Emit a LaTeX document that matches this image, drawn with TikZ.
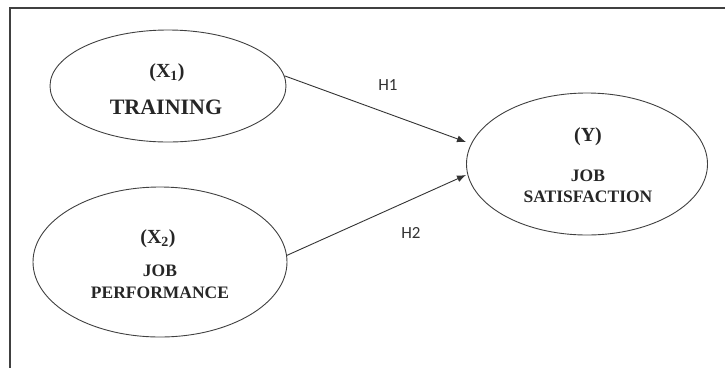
\documentclass[tikz,border=0pt]{standalone}
\usepackage{fontspec}
\setmainfont{Liberation Serif}
\newfontfamily\hypfont{Carlito}
\usetikzlibrary{shapes.geometric,arrows.meta}

\tikzset{
  latent/.style={ellipse, draw=black!75, line width=0.9pt, inner sep=0pt},
  varname/.style={font=\bfseries\fontsize{20}{22}\selectfont, text=black!85, inner sep=0pt},
  varbig/.style={font=\bfseries\fontsize{22}{24}\selectfont, text=black!85, inner sep=0pt},
  varsmall/.style={font=\bfseries\fontsize{17.5}{19}\selectfont, text=black!85, inner sep=0pt},
  effect/.style={-{Latex[length=9pt,width=7pt]}, draw=black!80, line width=0.9pt},
  hyp/.style={font=\hypfont\fontsize{17}{19}\selectfont, text=black!80, inner sep=0pt},
}

\begin{document}
\begin{tikzpicture}[x=1pt, y=-1pt]
\useasboundingbox (0,0) rectangle (725,368);
% frame
\draw[line width=1.8pt, black!75] (725,8) -- (10,8) -- (10,368);

% latent variables
\node[latent, minimum width=236pt, minimum height=112pt] (x1) at (168,86) {};
\node[latent, minimum width=254pt, minimum height=150pt] (x2) at (160,262) {};
\node[latent, minimum width=241pt, minimum height=142pt] (y) at (587,164) {};

\node[varname] (x1n) at (167,73) {(X\textsubscript{1})};
\node[varbig] (x1t) at (166,107) {TRAINING};

\node[varname] (x2n) at (158,239) {(X\textsubscript{2})};
\node[varsmall] (x2a) at (160,271) {JOB};
\node[varsmall] (x2b) at (160,293) {PERFORMANCE};

\node[varname] (yn) at (588,137) {(Y)};
\node[varsmall] (ya) at (588,176) {JOB};
\node[varsmall] (yb) at (588,197) {SATISFACTION};

% hypotheses
\coordinate (h1end) at (466,142);
\coordinate (h2end) at (466,175);
\draw[effect] (x1.5) -- (h1end);
\draw[effect] (x2.3) -- (h2end);
\node[hyp] (h1) at (388,85) {H1};
\node[hyp] (h2) at (411,233) {H2};
\end{tikzpicture}
\end{document}
